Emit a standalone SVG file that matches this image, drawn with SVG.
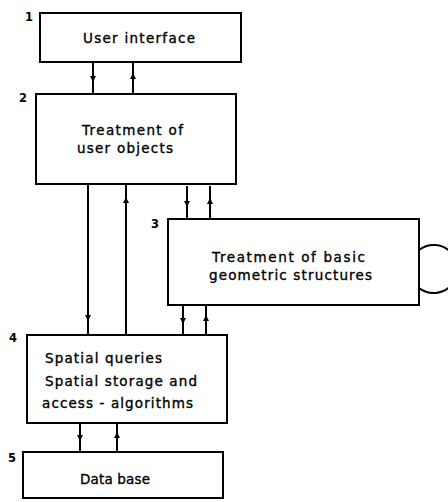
<svg xmlns="http://www.w3.org/2000/svg" width="448" height="502" viewBox="0 0 448 502">
  <defs>
    <marker id="head" viewBox="0 0 6 8" refX="3" refY="4" markerWidth="6" markerHeight="8" markerUnits="userSpaceOnUse" orient="auto">
      <path d="M0,1 L6,4 L0,7 Z" fill="#000"/>
    </marker>
    <style>
      .box { fill: #fff; stroke: #000; stroke-width: 2; }
      .lbl { font-family: "DejaVu Sans", "Liberation Sans", sans-serif; font-size: 13.5px; fill: #000; stroke: #000; stroke-width: 0.35; }
      .num { font-family: "DejaVu Sans", "Liberation Sans", sans-serif; font-size: 11.5px; font-weight: bold; fill: #000; }
      .link { fill: none; stroke: #000; stroke-width: 2; marker-mid: url(#head); }
    </style>
  </defs>
  <rect width="448" height="502" fill="#fff"/>

  <!-- connectors -->
  <g id="connectors">
    <!-- 1 <-> 2 -->
    <path class="link" d="M93,62 L93,79 L93,94"/>
    <path class="link" d="M133,94 L133,76 L133,62"/>
    <!-- 2 <-> 4 -->
    <path class="link" d="M88,184 L88,318 L88,334"/>
    <path class="link" d="M126,334 L126,200 L126,184"/>
    <!-- 2 <-> 3 -->
    <path class="link" d="M187,186 L187,204 L187,219"/>
    <path class="link" d="M210,219 L210,201 L210,186"/>
    <!-- 3 <-> 4 -->
    <path class="link" d="M183,305 L183,321 L183,335"/>
    <path class="link" d="M206,335 L206,318 L206,305"/>
    <!-- 4 <-> 5 -->
    <path class="link" d="M80,423 L80,438 L80,452"/>
    <path class="link" d="M117,452 L117,435 L117,423"/>
    <!-- self loop on 3 -->
    <path d="M419,250 A24,24 0 1,1 419,288" fill="none" stroke="#000" stroke-width="2"/>
  </g>

  <g id="node1">
    <rect class="box" x="40" y="13" width="201" height="49"/>
    <text class="num" x="25" y="21">1</text>
    <text class="lbl" x="83" y="43" textLength="112" lengthAdjust="spacing">User interface</text>
  </g>

  <g id="node2">
    <rect class="box" x="36" y="94" width="200" height="90"/>
    <text class="num" x="19" y="102">2</text>
    <text class="lbl" x="82" y="135" textLength="101" lengthAdjust="spacing">Treatment of</text>
    <text class="lbl" x="77" y="153" textLength="96" lengthAdjust="spacing">user objects</text>
  </g>

  <g id="node3">
    <rect class="box" x="168" y="219" width="251" height="86"/>
    <text class="num" x="151" y="228">3</text>
    <text class="lbl" x="212" y="262" textLength="153" lengthAdjust="spacing">Treatment of basic</text>
    <text class="lbl" x="209" y="280" textLength="163" lengthAdjust="spacing">geometric structures</text>
  </g>

  <g id="node4">
    <rect class="box" x="27" y="335" width="200" height="88"/>
    <text class="num" x="9" y="342">4</text>
    <text class="lbl" x="45" y="363" textLength="117" lengthAdjust="spacing">Spatial queries</text>
    <text class="lbl" x="45" y="386" textLength="152" lengthAdjust="spacing">Spatial storage and</text>
    <text class="lbl" x="42" y="408" textLength="151" lengthAdjust="spacing">access - algorithms</text>
  </g>

  <g id="node5">
    <rect class="box" x="23" y="452" width="200" height="46"/>
    <text class="num" x="8" y="462">5</text>
    <text class="lbl" x="80" y="484" textLength="70" lengthAdjust="spacing">Data base</text>
  </g>
</svg>
